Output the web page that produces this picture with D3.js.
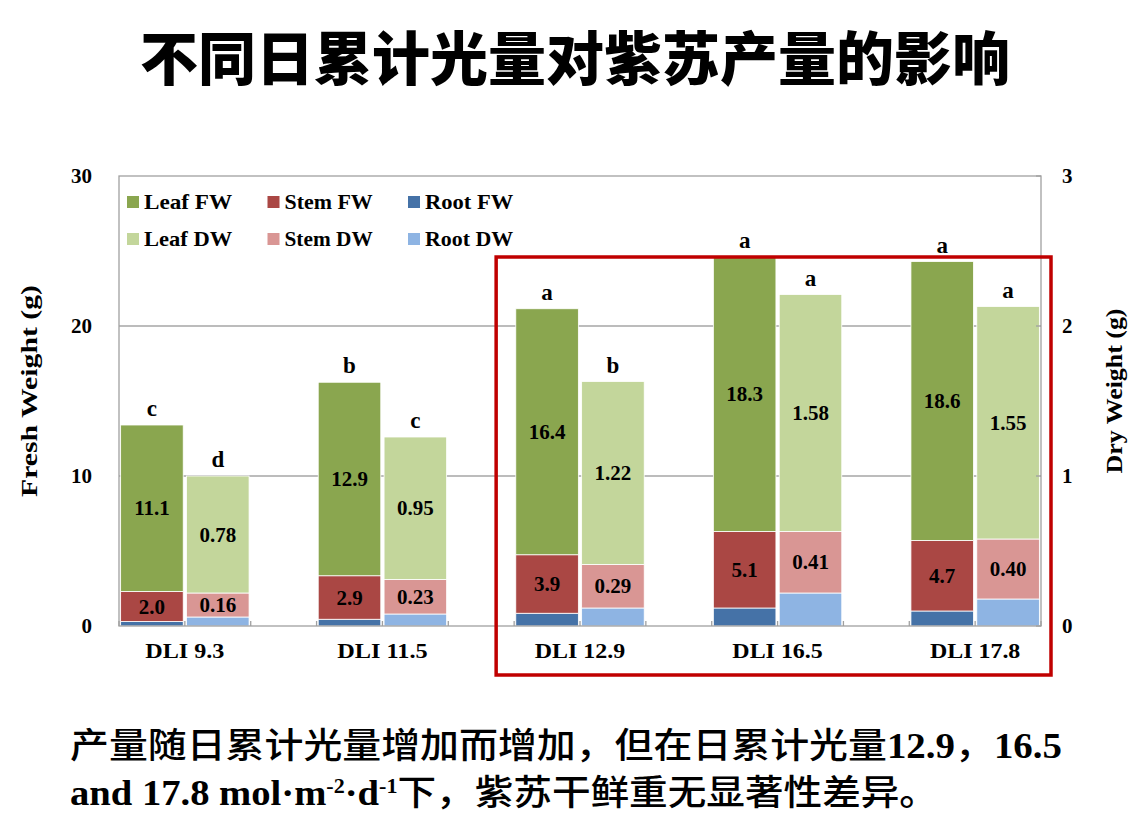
<!DOCTYPE html>
<html>
<head>
<meta charset="utf-8">
<script src="https://cdn.jsdelivr.net/npm/d3@7"></script>
<style>
  body { margin: 0; background: #fff; }
  svg { display: block; }
</style>
</head>
<body>
<svg id="chart" width="1145" height="837"></svg>
<script>
// Stacked fresh / dry weight of perilla under five DLI levels

///// DATA /////
var categories = ["DLI 9.3", "DLI 11.5", "DLI 12.9", "DLI 16.5", "DLI 17.8"];
var rootFW = [0.3, 0.45, 0.85, 1.2, 1.0];
var stemFW = [2.0, 2.9, 3.9, 5.1, 4.7];
var leafFW = [11.1, 12.9, 16.4, 18.3, 18.6];
var rootDW = [0.06, 0.08, 0.12, 0.22, 0.18];
var stemDW = [0.16, 0.23, 0.29, 0.41, 0.40];
var leafDW = [0.78, 0.95, 1.22, 1.58, 1.55];
var lettersFW = ["c", "b", "a", "a", "a"];
var lettersDW = ["d", "c", "b", "a", "a"];
var freshTicks = [0, 10, 20, 30];
var dryTicks = [0, 1, 2, 3];
var highlighted = ["DLI 12.9", "DLI 16.5", "DLI 17.8"];
var legendRows = [["Leaf FW", "Stem FW", "Root FW"], ["Leaf DW", "Stem DW", "Root DW"]];

var titleText = "不同日累计光量对紫苏产量的影响";
var note1 = "产量随日累计光量增加而增加，但在日累计光量12.9，16.5";
var note2 = "and 17.8 mol·m-2·d-1下，紫苏干鲜重无显著性差异。";

var colors = {
    "Leaf FW": "#8aa64f", "Stem FW": "#aa4744", "Root FW": "#4572a7",
    "Leaf DW": "#c3d69b", "Stem DW": "#d99694", "Root DW": "#8eb4e3"
};

///// SETUP /////
var svg = d3.select("#chart");
var serif = "'Liberation Serif', 'Times New Roman', serif";
var cjk = "'Noto Sans CJK SC', sans-serif";

var plot = {left: 119, right: 1041, top: 176, bottom: 626};

// 14 slots: FW bar, DW bar, and a gap slot between groups (like the Excel chart)
var slots = [];
categories.forEach(function(c, i) {
    slots.push(c + "|FW");
    slots.push(c + "|DW");
    if (i < categories.length - 1) slots.push(c + "|gap");
});

var x = d3.scaleBand()
    .domain(slots)
    .range([plot.left, plot.right])
    .paddingInner(0.05)
    .paddingOuter(0.025);
var half = x.step() * x.paddingInner() / 2;

var yFresh = d3.scaleLinear().domain([0, 30]).range([plot.bottom, plot.top]);
var yDry = d3.scaleLinear().domain([0, 3]).range([plot.bottom, plot.top]);

///// TITLE /////
svg.append("text")
    .attr("x", 575)
    .attr("y", 55)
    .attr("text-anchor", "middle")
    .attr("dominant-baseline", "central")
    .style("font-family", cjk)
    .style("font-weight", 900)
    .style("font-size", "58px")
    .attr("textLength", 870)
    .attr("lengthAdjust", "spacingAndGlyphs")
    .text(titleText);

///// GRID AND FRAME /////
var g = svg.append("g");

g.selectAll(".grid")
    .data(freshTicks.filter(function(t) { return t > 0 && t < 30; }))
    .enter()
    .append("line")
    .attr("x1", plot.left).attr("x2", plot.right)
    .attr("y1", function(d) { return yFresh(d); })
    .attr("y2", function(d) { return yFresh(d); })
    .attr("stroke", "#a6a6a6")
    .attr("stroke-width", 1.3);

///// BARS /////
function stackOf(i, kind) {
    var keys = kind === "FW" ? ["Root FW", "Stem FW", "Leaf FW"] : ["Root DW", "Stem DW", "Leaf DW"];
    var vals = kind === "FW" ? [rootFW[i], stemFW[i], leafFW[i]] : [rootDW[i], stemDW[i], leafDW[i]];
    var acc = 0;
    return keys.map(function(k, j) {
        var seg = {cat: categories[i], kind: kind, key: k, v: vals[j], y0: acc, y1: acc + vals[j]};
        acc += vals[j];
        return seg;
    });
}

var segments = [];
categories.forEach(function(c, i) {
    segments = segments.concat(stackOf(i, "FW"), stackOf(i, "DW"));
});

function yOf(d) { return d.kind === "FW" ? yFresh : yDry; }

g.selectAll(".seg")
    .data(segments)
    .enter()
    .append("rect")
    .attr("x", function(d) { return x(d.cat + "|" + d.kind); })
    .attr("width", x.bandwidth())
    .attr("y", function(d) { return yOf(d)(d.y1); })
    .attr("height", function(d) { return yOf(d)(d.y0) - yOf(d)(d.y1); })
    .attr("fill", function(d) { return colors[d.key]; })
    .attr("stroke", "#fff")
    .attr("stroke-width", 0.8);

// value labels on leaf and stem segments
g.selectAll(".val")
    .data(segments.filter(function(d) { return d.key.indexOf("Root") < 0; }))
    .enter()
    .append("text")
    .attr("x", function(d) { return x(d.cat + "|" + d.kind) + x.bandwidth() / 2; })
    .attr("y", function(d) { return (yOf(d)(d.y0) + yOf(d)(d.y1)) / 2; })
    .attr("text-anchor", "middle")
    .attr("dominant-baseline", "central")
    .style("font-family", serif)
    .style("font-weight", "bold")
    .style("font-size", "21px")
    .text(function(d) { return d.kind === "FW" ? d3.format(".1f")(d.v) : d3.format(".2f")(d.v); });

// significance letters above the bars
var tops = [];
categories.forEach(function(c, i) {
    tops.push({cat: c, kind: "FW", total: rootFW[i] + stemFW[i] + leafFW[i], letter: lettersFW[i]});
    tops.push({cat: c, kind: "DW", total: rootDW[i] + stemDW[i] + leafDW[i], letter: lettersDW[i]});
});

g.selectAll(".sig")
    .data(tops)
    .enter()
    .append("text")
    .attr("x", function(d) { return x(d.cat + "|" + d.kind) + x.bandwidth() / 2; })
    .attr("y", function(d) { return yOf(d)(d.total) - 9; })
    .attr("text-anchor", "middle")
    .style("font-family", serif)
    .style("font-weight", "bold")
    .style("font-size", "23px")
    .text(function(d) { return d.letter; });

///// AXES /////
var frame = svg.append("g").attr("stroke", "#a0a0a0").attr("stroke-width", 1.3).attr("fill", "none");
frame.append("rect")
    .attr("x", plot.left).attr("y", plot.top)
    .attr("width", plot.right - plot.left)
    .attr("height", plot.bottom - plot.top);

// category ticks pointing up from the x axis at every slot boundary
frame.selectAll(".xt")
    .data(d3.range(slots.length + 1))
    .enter()
    .append("line")
    .attr("x1", function(k) { return k < slots.length ? x(slots[k]) - half : plot.right; })
    .attr("x2", function(k) { return k < slots.length ? x(slots[k]) - half : plot.right; })
    .attr("y1", plot.bottom)
    .attr("y2", plot.bottom - 5);

// right axis inner ticks
frame.selectAll(".yt")
    .data(dryTicks)
    .enter()
    .append("line")
    .attr("x1", plot.right - 5).attr("x2", plot.right)
    .attr("y1", function(d) { return yDry(d); })
    .attr("y2", function(d) { return yDry(d); });

svg.selectAll(".lt")
    .data(freshTicks)
    .enter()
    .append("text")
    .attr("x", 92)
    .attr("y", function(d) { return yFresh(d); })
    .attr("text-anchor", "end")
    .attr("dominant-baseline", "central")
    .style("font-family", serif)
    .style("font-weight", "bold")
    .style("font-size", "21px")
    .text(function(d) { return d; });

svg.selectAll(".rt")
    .data(dryTicks)
    .enter()
    .append("text")
    .attr("x", 1062)
    .attr("y", function(d) { return yDry(d); })
    .attr("text-anchor", "start")
    .attr("dominant-baseline", "central")
    .style("font-family", serif)
    .style("font-weight", "bold")
    .style("font-size", "21px")
    .text(function(d) { return d; });

svg.selectAll(".xl")
    .data(categories)
    .enter()
    .append("text")
    .attr("x", function(c) { return x(c + "|DW") - half; })
    .attr("y", 658)
    .attr("text-anchor", "middle")
    .style("font-family", serif)
    .style("font-weight", "bold")
    .style("font-size", "22px")
    .attr("textLength", function(c) { return c.length * 11.3; })
    .attr("lengthAdjust", "spacingAndGlyphs")
    .text(function(c) { return c; });

// axis titles
svg.append("text")
    .attr("transform", "translate(37,391) rotate(-90)")
    .attr("text-anchor", "middle")
    .style("font-family", serif)
    .style("font-weight", "bold")
    .style("font-size", "24px")
    .attr("textLength", 212)
    .attr("lengthAdjust", "spacingAndGlyphs")
    .text("Fresh Weight (g)");

svg.append("text")
    .attr("transform", "translate(1122,391) rotate(-90)")
    .attr("text-anchor", "middle")
    .style("font-family", serif)
    .style("font-weight", "bold")
    .style("font-size", "24px")
    .attr("textLength", 165)
    .attr("lengthAdjust", "spacingAndGlyphs")
    .text("Dry Weight (g)");

///// LEGEND /////
var legend = svg.append("g").attr("transform", "translate(127,202)");
legendRows.forEach(function(row, r) {
    row.forEach(function(key, c) {
        var item = legend.append("g").attr("transform", "translate(" + (c * 140.5) + "," + (r * 37) + ")");
        item.append("rect")
            .attr("x", 0).attr("y", -6)
            .attr("width", 12).attr("height", 12)
            .attr("fill", colors[key]);
        item.append("text")
            .attr("x", 17)
            .attr("y", 0)
            .attr("dominant-baseline", "central")
            .style("font-family", serif)
            .style("font-weight", "bold")
            .style("font-size", "21px")
            .attr("textLength", key.length * 12.6)
            .attr("lengthAdjust", "spacingAndGlyphs")
            .text(key);
    });
});

///// HIGHLIGHT BOX /////
var maxFresh = d3.max(categories.map(function(c, i) { return rootFW[i] + stemFW[i] + leafFW[i]; }));
var boxLeft = x(highlighted[0] + "|FW") - half - 18;
svg.append("rect")
    .attr("x", boxLeft)
    .attr("y", yFresh(maxFresh))
    .attr("width", plot.right + 10 - boxLeft)
    .attr("height", plot.bottom + 49 - yFresh(maxFresh))
    .attr("fill", "none")
    .attr("stroke", "#c00000")
    .attr("stroke-width", 3.5);

///// NOTE TEXT /////
// split into runs: latin parts get the serif bold face, CJK parts the sans face,
// and "-2" / "-1" become superscripts (the shift back goes on the next run)
function addRuns(textSel, str) {
    var runs = [];
    str.match(/[\x00-\x7F·]+|[^\x00-\x7F·]+/g).forEach(function(p) {
        var isLatin = /^[\x00-\x7F·]+$/.test(p);
        if (isLatin) {
            p.split(/(-\d)/).forEach(function(s) {
                if (s) runs.push({t: s, latin: true, sup: /^-\d$/.test(s)});
            });
        } else {
            runs.push({t: p, latin: false, sup: false});
        }
    });
    var shift = 0;
    runs.forEach(function(r) {
        var target = r.sup ? -12 : 0;
        textSel.append("tspan")
            .attr("dy", target - shift)
            .style("font-family", r.latin ? serif : cjk)
            .style("font-weight", r.latin ? "bold" : 500)
            .style("font-size", r.sup ? "20px" : null)
            .text(r.t);
        shift = target;
    });
}

var t1 = svg.append("text")
    .attr("x", 70).attr("y", 758)
    .style("font-size", "35px")
    .attr("textLength", 992)
    .attr("lengthAdjust", "spacingAndGlyphs");
addRuns(t1, note1);

var t2 = svg.append("text")
    .attr("x", 70).attr("y", 805)
    .style("font-size", "35px")
    .attr("textLength", 868)
    .attr("lengthAdjust", "spacingAndGlyphs");
addRuns(t2, note2);
</script>
</body>
</html>
